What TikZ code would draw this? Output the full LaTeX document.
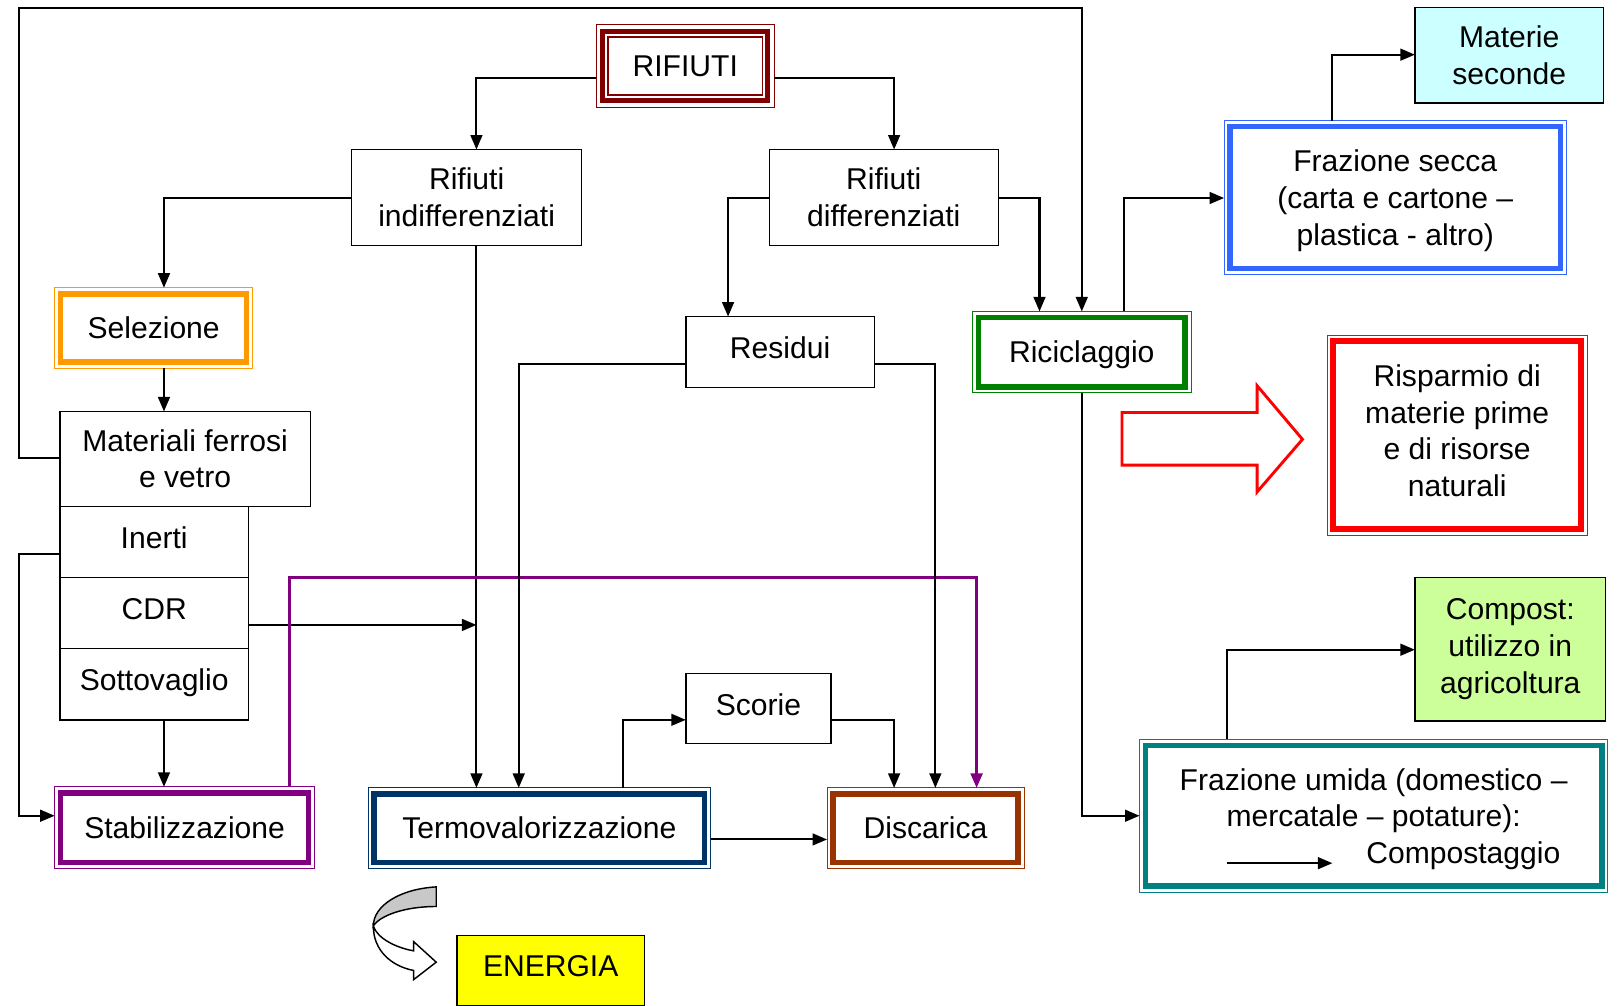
\documentclass[tikz,border=0pt]{standalone}
\usepackage{fontspec}
\setmainfont{Liberation Sans}
\usetikzlibrary{arrows.meta}
\definecolor{cRif}{RGB}{128,0,0}
\definecolor{cOra}{RGB}{255,153,0}
\definecolor{cPur}{RGB}{128,0,128}
\definecolor{cNav}{RGB}{0,51,102}
\definecolor{cBro}{RGB}{153,51,0}
\definecolor{cGre}{RGB}{0,128,0}
\definecolor{cBlu}{RGB}{51,102,255}
\definecolor{cRed}{RGB}{255,0,0}
\definecolor{cTea}{RGB}{0,128,128}
\definecolor{cCya}{RGB}{204,255,255}
\definecolor{cLim}{RGB}{204,255,153}
\definecolor{cYel}{RGB}{255,255,0}
\definecolor{cGry}{RGB}{200,200,200}
\newcommand\shtxt[2]{\raisebox{#1}[\height][\depth]{\begin{tabular}{@{}c@{}}#2\end{tabular}}}
\tikzset{
  base/.style={rectangle, inner sep=0pt, outer sep=0pt, align=center},
  wh/.style 2 args={minimum width=#1*0.02cm, minimum height=#2*0.02cm},
  pbox/.style={base, draw=black, line width=0.8pt, fill=white},
  dbl/.style={base, draw=#1, line width=0.6pt, fill=white,
    path picture={\draw[#1, line width=3.1pt]
      ([shift={(3.3pt,3.3pt)}]path picture bounding box.south west) rectangle
      ([shift={(-3.3pt,-3.3pt)}]path picture bounding box.north east);}},
  trpl/.style={base, draw=#1, line width=0.6pt, fill=white,
    path picture={\draw[#1, line width=2.8pt]
      ([shift={(3.6pt,3.6pt)}]path picture bounding box.south west) rectangle
      ([shift={(-3.6pt,-3.6pt)}]path picture bounding box.north east);
      \draw[#1, line width=0.9pt]
      ([shift={(6.6pt,6.6pt)}]path picture bounding box.south west) rectangle
      ([shift={(-6.6pt,-6.6pt)}]path picture bounding box.north east);}},
  arr/.style={line width=1.15pt, -{Triangle[length=8pt,width=6.5pt]}},
  parr/.style={line width=1.5pt, draw=cPur, -{Triangle[length=8pt,width=6.5pt]}, color=cPur},
}
\begin{document}
\begin{tikzpicture}[x=0.02cm, y=-0.02cm, font=\fontsize{16.6}{20.2}\selectfont]
\useasboundingbox (0,0) rectangle (1568,975);
\fill[white] (0,0) rectangle (1568,975);

% nodes
\node[trpl=cRif, wh={173}{80}] (rif) at (664.5,64) {RIFIUTI};
\node[pbox, wh={223}{93}] (ind) at (452.5,191.5) {Rifiuti\\indifferenziati};
\node[pbox, wh={222}{93}] (dif) at (857,191.5) {Rifiuti\\differenziati};
\node[dbl=cOra, wh={192}{78}] (sel) at (149,318) {Selezione};
\node[pbox, wh={243}{92}] (mat) at (179.5,445) {Materiali ferrosi\\e vetro};
\node[pbox, wh={183}{69}] (ine) at (149.5,525.5) {\shtxt{0.6pt}{Inerti}};
\node[pbox, wh={183}{69}] (cdr) at (149.5,594.5) {\shtxt{0.6pt}{CDR}};
\node[pbox, wh={183}{69}] (sot) at (149.5,663.5) {\shtxt{0.5pt}{Sottovaglio}};
\node[dbl=cPur, wh={252}{79}] (stab) at (179,802.5) {Stabilizzazione};
\node[dbl=cNav, wh={332}{78}] (term) at (523,803) {Termovalorizzazione};
\node[pbox, wh={183}{69}] (res) at (756.5,341.5) {\shtxt{0.6pt}{Residui}};
\node[pbox, wh={141}{68}] (sco) at (735.5,687) {\shtxt{0pt}{Scorie}};
\node[dbl=cBro, wh={191}{78}] (dis) at (897.5,803) {Discarica};
\node[pbox, fill=cYel, wh={182}{68}] (ene) at (534,941) {\shtxt{0.5pt}{ENERGIA}};
\node[dbl=cGre, wh={212}{79}] (ric) at (1049,341.5) {\shtxt{-1.7pt}{Riciclaggio}};
\node[dbl=cBlu, wh={332}{149}] (sec) at (1353,191.5) {\shtxt{-2pt}{Frazione secca\\(carta e cartone –\\plastica - altro)}};
\node[pbox, fill=cCya, wh={183}{93}] (mse) at (1463.5,53.5) {Materie\\seconde};
\node[dbl=cRed, wh={252}{194}] (ris) at (1413,422) {\shtxt{0.6pt}{Risparmio di\\materie prime\\e di risorse\\naturali}};
\node[pbox, fill=cLim, wh={185}{139}] (com) at (1464.5,629.5) {Compost:\\utilizzo in\\agricoltura};
\node[dbl=cTea, wh={454}{148}] (umi) at (1332,791) {\shtxt{-2pt}{Frazione umida (domestico –\\mercatale – potature):\\\hspace*{99pt}Compostaggio}};

\coordinate (cdrend) at (462,606);
\coordinate (ua) at (1190,837);
\coordinate (ub) at (1292,837);

% connectors
\draw[arr] (rif.west |- 0,76) -| (ind.north -| 462,0);
\draw[arr] (rif.east |- 0,76) -| (dif.north -| 867,0);
\draw[arr] (ind.west |- 0,192) -| (sel.north -| 159,0);
\draw[arr] (ind.south -| 462,0) -- (term.north -| 462,0);
\draw[arr] (dif.west |- 0,192) -| (res.north -| 706,0);
\draw[arr] (dif.east |- 0,192) -| (ric.north -| 1008,0);
\draw[arr] (mat.west |- 0,444) -| (18,8) -| (ric.north);
\draw[arr] (sel.south -| 159,0) -- (mat.north -| 159,0);
\draw[arr] (ine.west |- 0,537) -| (18,791) -- (stab.west |- 0,791);
\draw[arr] (cdr.east |- 0,606) -- (cdrend);
\draw[arr] (sot.south -| 159,0) -- (stab.north -| 159,0);
\draw[parr] (stab.north -| 281,0) |- (947,560) -- (dis.north -| 947,0);
\draw[arr] (term.north -| 604,0) |- (sco.west |- 0,698);
\draw[arr] (sco.east |- 0,698) -| (dis.north -| 867,0);
\draw[arr] (term.east |- 0,814) -- (dis.west |- 0,814);
\draw[arr] (res.west |- 0,353) -| (term.north -| 503,0);
\draw[arr] (res.east |- 0,353) -| (dis.north -| 907,0);
\draw[arr] (ric.north -| 1090,0) |- (sec.west |- 0,192);
\draw[arr] (sec.north -| 1292,0) |- (mse.west |- 0,53);
\draw[arr] (ric.south) |- (umi.west |- 0,791);
\draw[arr] (umi.north -| 1190,0) |- (com.west |- 0,630);
\draw[arr] (ua) -- (ub);

% big red block arrow
\draw[cRed, line width=1.6pt, fill=white] (1088,400) -- (1219,400) -- (1219,374) -- (1263,426) -- (1219,477) -- (1219,451) -- (1088,451) -- cycle;

% curved arrow to ENERGIA
\draw[line width=0.8pt, fill=cGry] (423,860) .. controls (388,862) and (362,878) .. (362,898)
  .. controls (368,888) and (392,879) .. (423,879) -- cycle;
\draw[line width=0.8pt, fill=white] (362,898) .. controls (362,922) and (380,937) .. (401,941)
  -- (401,950) -- (423,933) -- (401,913) -- (401,922)
  .. controls (384,919) and (366,910) .. (362,898) -- cycle;
\end{tikzpicture}
\end{document}
